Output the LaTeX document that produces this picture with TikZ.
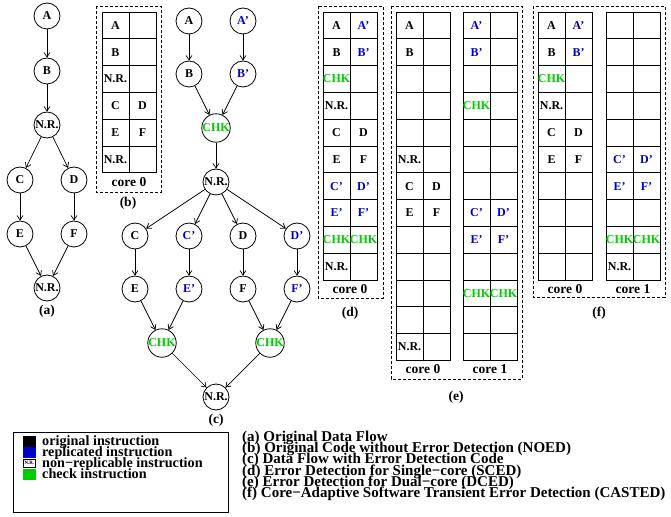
\documentclass[tikz,border=0pt]{standalone}
\usepackage{fontspec}
\setmainfont{Liberation Serif}
\usetikzlibrary{arrows.meta}
\definecolor{replblue}{HTML}{0000CC}
\definecolor{chkgreen}{HTML}{00CC00}
\newcommand{\bfsz}[1]{\fontsize{#1bp}{#1bp}\selectfont\bfseries}
\tikzset{
  op/.style={circle, draw, line width=0.8bp, minimum size=26bp, inner sep=0pt, font=\bfsz{12}},
  arrow/.style={-{Straight Barb[length=4.5bp,width=6bp]}, line width=0.7bp},
  cell/.style={draw, line width=0.9bp, minimum width=27bp, minimum height=26.8bp, inner sep=0pt},
  celltext/.style={inner sep=0pt, font=\bfsz{12}},
  plain/.style={},
  replica/.style={text=replblue},
  checker/.style={text=chkgreen},
  corelabel/.style={inner sep=0pt, font=\bfsz{13.5}},
  sublabel/.style={inner sep=0pt, font=\bfsz{13.5}},
  corebox/.style={draw, dash pattern=on 3bp off 2bp, line width=0.8bp},
  swatch/.style={minimum width=13bp, minimum height=11bp, inner sep=0pt},
  keytext/.style={anchor=base west, inner sep=0pt, font=\bfsz{14.2}},
  captext/.style={anchor=base west, inner sep=0pt, font=\bfsz{15}}
}
% one core: two columns of cells with its name underneath
\newcommand{\coretable}[4]{%
  \foreach \rw in {1,...,#3}
    \foreach \cl in {1,2}
      \node[cell] (#1-\rw-\cl) at ({#2+(\cl-0.5)*27},{12+(\rw-0.5)*26.8}) {};
  \node[corelabel] (#1-core) at ({#2+27},{12+#3*26.8+9}) {#4};
}
% row/column/text/style entries of a core
\newcommand{\fillcells}[2]{%
  \foreach \rw/\cl/\lbl/\sty in {#2}
    \node[celltext,\sty] (#1-\rw-\cl-op) at (#1-\rw-\cl) {\lbl};
}

\begin{document}
\begin{tikzpicture}[x=1bp,y=-1bp]
  \useasboundingbox (0,0) rectangle (671,517);

  % (a) original data flow
  \node[op] (a1) at (47,16) {A};
  \node[op] (a2) at (47,71) {B};
  \node[op] (a3) at (47,125) {N.R.};
  \node[op] (a4) at (20,180) {C};
  \node[op] (a5) at (74,180) {D};
  \node[op] (a6) at (20,234) {E};
  \node[op] (a7) at (74,234) {F};
  \node[op] (a8) at (47,288) {N.R.};
  \foreach \s/\t in {a1/a2,a2/a3,a3/a4,a3/a5,a4/a6,a5/a7,a6/a8,a7/a8}
    \draw[arrow] (\s) -- (\t);
  \node[sublabel] (la) at (47,311) {(a)};

  % (b) NOED
  \draw[corebox] (96,6) rectangle (161,192);
  \coretable{b0}{102}{6}{core 0}
  \fillcells{b0}{1/1/A/plain, 2/1/B/plain, 3/1/N.R./plain, 4/1/C/plain, 4/2/D/plain,
    5/1/E/plain, 5/2/F/plain, 6/1/N.R./plain}
  \node[sublabel] (lb) at (128,203) {(b)};

  % (c) data flow with checks
  \node[op] (c1) at (189,21) {A};
  \node[op,replica] (c2) at (243,21) {A'};
  \node[op] (c3) at (189,74) {B};
  \node[op,replica] (c4) at (243,74) {B'};
  \node[op,checker] (c5) at (216,128) {CHK};
  \node[op] (c6) at (216,182) {N.R.};
  \node[op] (c7) at (135,236) {C};
  \node[op,replica] (c8) at (189,236) {C'};
  \node[op] (c9) at (243,236) {D};
  \node[op,replica] (c10) at (297,236) {D'};
  \node[op] (c11) at (135,289) {E};
  \node[op,replica] (c12) at (189,289) {E'};
  \node[op] (c13) at (243,289) {F};
  \node[op,replica] (c14) at (297,289) {F'};
  \node[op,checker] (c15) at (162,343) {CHK};
  \node[op,checker] (c16) at (270,343) {CHK};
  \node[op] (c17) at (216,397) {N.R.};
  \foreach \s/\t in {c1/c3,c2/c4,c3/c5,c4/c5,c5/c6,c6/c7,c6/c8,c6/c9,c6/c10,
      c7/c11,c8/c12,c9/c13,c10/c14,c11/c15,c12/c15,c13/c16,c14/c16,c15/c17,c16/c17}
    \draw[arrow] (\s) -- (\t);
  \node[sublabel] (lc) at (216,420) {(c)};

  % (d) SCED
  \draw[corebox] (318,6) rectangle (383,298);
  \coretable{d0}{323}{10}{core 0}
  \fillcells{d0}{1/1/A/plain, 1/2/A'/replica, 2/1/B/plain, 2/2/B'/replica,
    3/1/CHK/checker, 4/1/N.R./plain, 5/1/C/plain, 5/2/D/plain, 6/1/E/plain, 6/2/F/plain,
    7/1/C'/replica, 7/2/D'/replica, 8/1/E'/replica, 8/2/F'/replica,
    9/1/CHK/checker, 9/2/CHK/checker, 10/1/N.R./plain}
  \node[sublabel] (ld) at (350,313) {(d)};

  % (e) DCED
  \draw[corebox] (391,6) rectangle (522,379);
  \coretable{e0}{396}{13}{core 0}
  \coretable{e1}{463}{13}{core 1}
  \fillcells{e0}{1/1/A/plain, 2/1/B/plain, 6/1/N.R./plain, 7/1/C/plain, 7/2/D/plain,
    8/1/E/plain, 8/2/F/plain, 13/1/N.R./plain}
  \fillcells{e1}{1/1/A'/replica, 2/1/B'/replica, 4/1/CHK/checker,
    8/1/C'/replica, 8/2/D'/replica, 9/1/E'/replica, 9/2/F'/replica,
    11/1/CHK/checker, 11/2/CHK/checker}
  \node[sublabel] (le) at (456,397) {(e)};

  % (f) CASTED
  \draw[corebox] (533,6) rectangle (665,297);
  \coretable{f0}{538}{10}{core 0}
  \coretable{f1}{606}{10}{core 1}
  \fillcells{f0}{1/1/A/plain, 1/2/A'/replica, 2/1/B/plain, 2/2/B'/replica,
    3/1/CHK/checker, 4/1/N.R./plain, 5/1/C/plain, 5/2/D/plain, 6/1/E/plain, 6/2/F/plain}
  \fillcells{f1}{6/1/C'/replica, 6/2/D'/replica, 7/1/E'/replica, 7/2/F'/replica,
    9/1/CHK/checker, 9/2/CHK/checker, 10/1/N.R./plain}
  \node[sublabel] (lf) at (599,313) {(f)};

  % legend
  \draw[line width=0.9bp] (13,432) rectangle (228,512);
  \node[swatch,fill=black] (korig) at (29.5,441) {};
  \node[swatch,fill=replblue] (krepl) at (29.5,452) {};
  \node[draw,line width=0.6bp,minimum width=12bp,minimum height=8bp,inner sep=0pt,
        font=\bfsz{5}] (knr) at (29.5,463) {N.R.};
  \node[swatch,fill=chkgreen] (kchk) at (29.5,474) {};
  \foreach \txt/\nm [count=\i from 0] in {original instruction/torig,
      replicated instruction/trepl, non−replicable instruction/tnr,
      check instruction/tchk}
    \node[keytext] (\nm) at (42,{445.5+11*\i}) {\txt};

  % captions
  \foreach \txt [count=\i from 0] in {%
      (a) Original Data Flow,
      (b) Original Code without Error Detection (NOED),
      (c) Data Flow with Error Detection Code,
      (d) Error Detection for Single−core (SCED),
      (e) Error Detection for Dual−core (DCED),
      (f) Core−Adaptive Software Transient Error Detection (CASTED)}
    \node[captext] (cap\i) at (242,{441.7+11.1*\i}) {\txt};
\end{tikzpicture}
\end{document}
